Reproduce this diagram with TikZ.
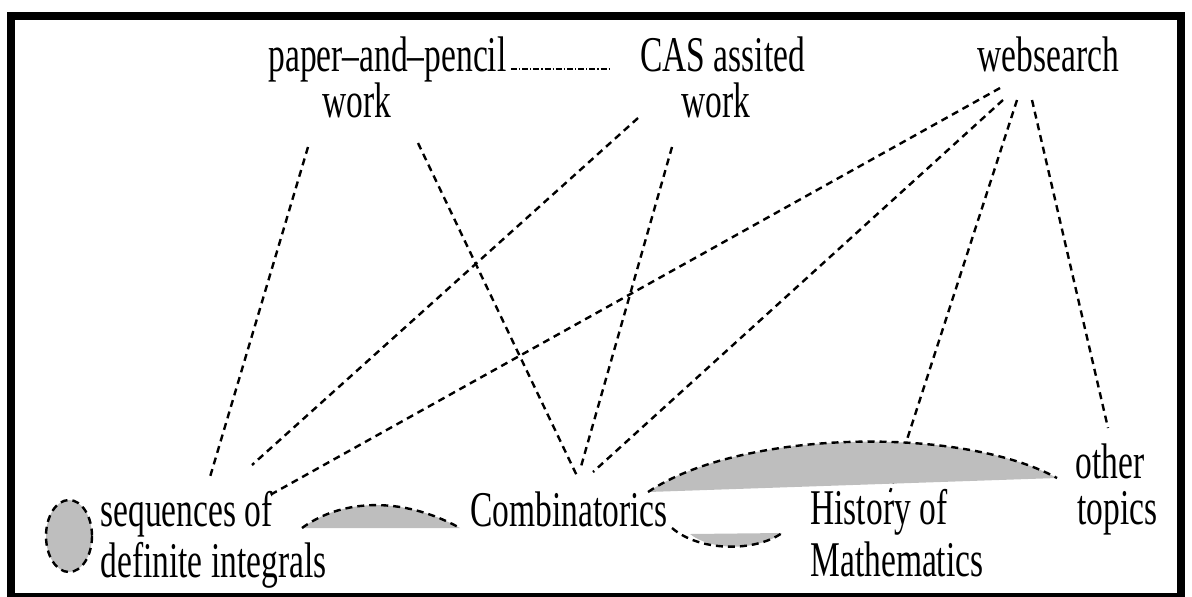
\documentclass[tikz,border=0pt]{standalone}
\usepackage{fontspec}
\setmainfont{Liberation Serif}[FakeStretch=0.67]
\definecolor{blobgray}{HTML}{BEBEBE}

\tikzset{
  lbl/.style={font=\fontsize{25}{30}\selectfont, inner sep=0pt, anchor=base west},
  link/.style={line width=1.2pt, dash pattern=on 3.5pt off 2.5pt},
  blob/.style={fill=blobgray},
  rim/.style={line width=1.2pt, dash pattern=on 3.5pt off 2.5pt}
}

\begin{document}
\begin{tikzpicture}[x=0.5pt, y=-0.5pt]
  \useasboundingbox (0,0) rectangle (1192,596);
  \draw[line width=4pt] (11,15.5) rectangle (1181,597);

  % ways of working
  \node[lbl] (pp) at (268,71) {paper–and–pencil};
  \node[lbl] (ppw) at ([shift={(54,46)}]pp.base west) {work};
  \node[lbl] (cas) at (640,71) {CAS assited};
  \node[lbl] (casw) at ([shift={(41,46)}]cas.base west) {work};
  \node[lbl] (web) at (977,71) {websearch};

  % topics
  \node[lbl] (seq) at (100,526) {sequences of};
  \node[lbl] (seqd) at ([shift={(0,51)}]seq.base west) {definite integrals};
  \node[lbl] (comb) at (470,526) {Combinatorics};
  \node[lbl] (hist) at (810,524) {History of};
  \node[lbl] (histm) at ([shift={(0,52)}]hist.base west) {Mathematics};
  \node[lbl] (oth) at (1075,478) {other};
  \node[lbl] (otht) at ([shift={(2,46)}]oth.base west) {topics};

  \draw[line width=0.6pt, dash pattern=on 3pt off 1pt on 0.6pt off 1pt]
    ([shift={(4,-2)}]pp.base east) -- ([shift={(-30,-2)}]cas.base west);

  \draw[link] ([shift={(40,76)}]pp.base west) -- ([shift={(110,-49)}]seq.base west);
  \draw[link] ([shift={(150,72)}]pp.base west) -- ([shift={(108,-48)}]comb.base west);
  \draw[link] ([shift={(-2,47)}]cas.base west) -- ([shift={(152,-61)}]seq.base west);
  \draw[link] ([shift={(32,76)}]cas.base west) -- ([shift={(110,-56)}]comb.base west);
  \draw[link] ([shift={(23,17)}]web.base west) -- ([shift={(170,-31)}]seq.base west);
  \draw[link] ([shift={(26,29)}]web.base west) -- ([shift={(123,-54)}]comb.base west);
  \draw[link] ([shift={(40,29)}]web.base west) -- ([shift={(80,-32)}]hist.base west);
  \draw[link] ([shift={(55,29)}]web.base west) -- ([shift={(33,-50)}]oth.base west);

  % shaded areas
  \filldraw[blob, rim] (69,536) ellipse [x radius=23, y radius=36];
  \fill[blob] (302,528) .. controls (340,500) and (400,495) .. (460,528) -- cycle;
  \draw[rim] (302,528) .. controls (340,500) and (400,495) .. (460,528);
  \fill[blob] (648,492) .. controls (740,430) and (960,425) .. (1057,478) -- cycle;
  \draw[rim] (648,492) .. controls (740,430) and (960,425) .. (1057,478);
  \fill[blob] (690,534) .. controls (710,550) and (755,552) .. (782,533) -- cycle;
  \draw[rim] (672,528) .. controls (700,552) and (755,552) .. (782,533);
\end{tikzpicture}
\end{document}
